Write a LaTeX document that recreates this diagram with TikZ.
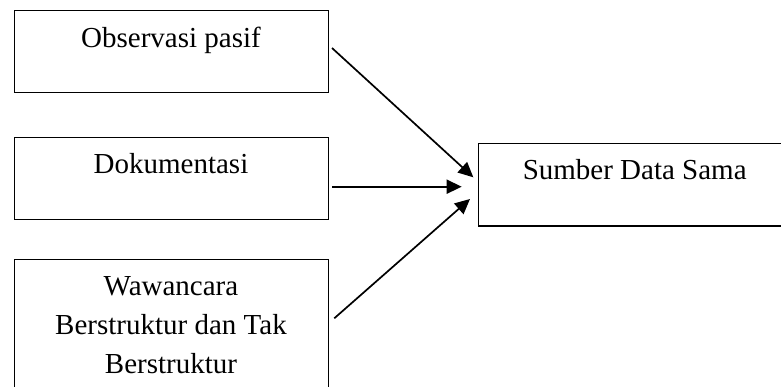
\documentclass[tikz,border=0pt]{standalone}
\usepackage{fontspec}
\setmainfont{Liberation Serif}
\usetikzlibrary{arrows.meta}
\begin{document}
\begin{tikzpicture}[x=1pt,y=-1pt,
  box/.style={draw=black,line width=1.3pt,fill=none},
  lbl/.style={anchor=base,inner sep=0pt,align=center,font=\fontsize{29}{39}\selectfont},
  conn/.style={line width=1.7pt,-{Triangle[length=15pt,width=14pt]}}]
\clip (0,0) rectangle (781,387);
\fill[white] (0,0) rectangle (781,387);
% boxes
\node[box,anchor=north west,minimum width=314pt,minimum height=82pt,inner sep=0pt] (obs) at (14,10) {};
\node[box,anchor=north west,minimum width=314pt,minimum height=82pt,inner sep=0pt] (dok) at (14,137) {};
\node[box,anchor=north west,minimum width=314pt,minimum height=150pt,inner sep=0pt] (waw) at (14,259) {};
\node[box,anchor=north west,minimum width=314pt,minimum height=82.6pt,inner sep=0pt] (sum) at (477.7,142.7) {};
% labels
\node[lbl] (tobs) at (171,48) {Observasi pasif};
\node[lbl] (tdok) at (171,174) {Dokumentasi};
\node[lbl] (twaw) at (171,373) {Wawancara\\Berstruktur dan Tak\\Berstruktur};
\node[lbl] (tsum) at (634.7,180) {Sumber Data Sama};
% connector ends
\coordinate (a1s) at (332,48);
\coordinate (a1e) at (473.3,177.3);
\coordinate (a2s) at (332.3,186.7);
\coordinate (a2e) at (461.7,186.7);
\coordinate (a3s) at (334.3,318.3);
\coordinate (a3e) at (470,199);
\draw[conn] (a1s) -- (a1e);
\draw[conn] (a2s) -- (a2e);
\draw[conn] (a3s) -- (a3e);
\end{tikzpicture}
\end{document}
